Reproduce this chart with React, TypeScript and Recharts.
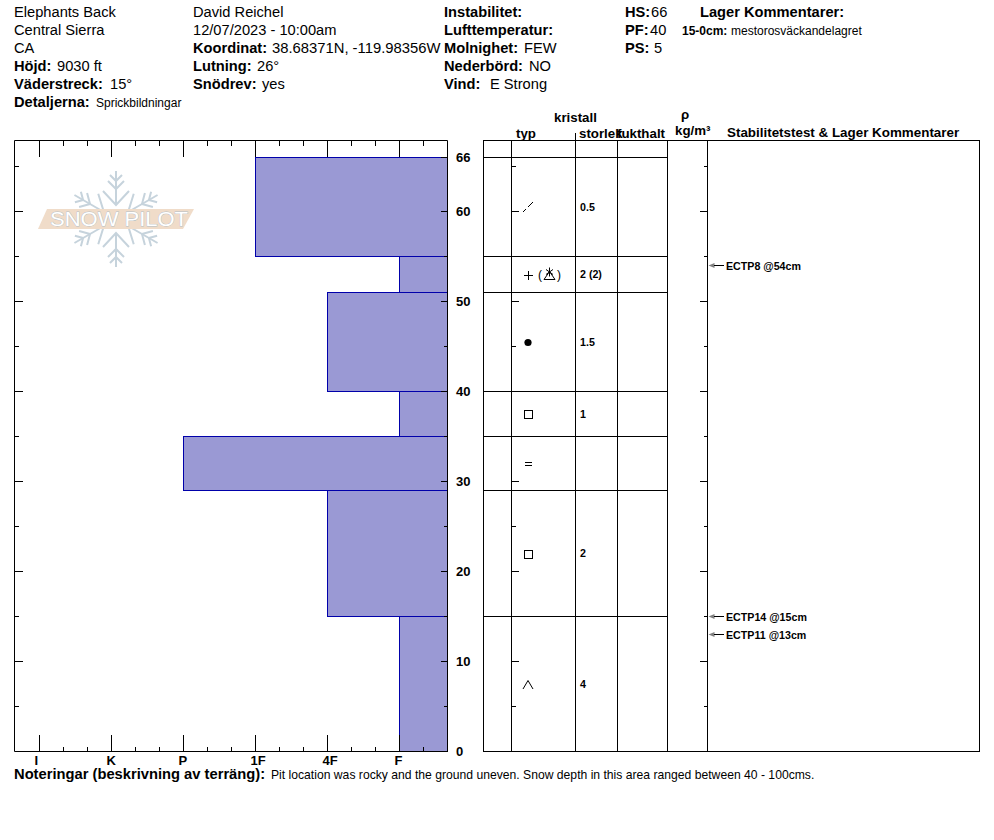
import React from 'react';
import { ComposedChart, XAxis, YAxis, Scatter, ReferenceArea, ReferenceLine } from 'recharts';

// ---- data ----
const hardnessLabels = ['I', 'K', 'P', '1F', '4F', 'F'];
const layerTops = [66, 55, 51, 40, 35, 29, 15];
const layerBottoms = [55, 51, 40, 35, 29, 15, 0];
const layerHardness = [4, 6, 5, 6, 3, 5, 6];
const grainTypes = ['decomposing', 'faceted-mixed', 'melt', 'facet', 'surface', 'facet', 'depth'];
const grainSizes = ['0.5', '2 (2)', '1.5', '1', '', '2', '4'];
const testDepths = [54, 15, 13];
const testLabels = ['ECTP8 @54cm', 'ECTP14 @15cm', 'ECTP11 @13cm'];
const rightDepthTicks = [0, 5, 10, 15, 20, 25, 30, 35, 40, 45, 50, 55, 60, 66];
const leftDepthTicks = [0, 5, 10, 15, 20, 25, 30, 35, 40, 45, 50, 55, 60, 65];
const hardnessTicks = [1, 4 / 3, 5 / 3, 2, 7 / 3, 8 / 3, 3, 10 / 3, 11 / 3, 4, 13 / 3, 14 / 3, 5, 16 / 3, 17 / 3, 6, 19 / 3];

type T = [string, number, number, boolean?, number?];
const headerTexts: T[] = [
  ['Elephants Back', 14, 17], ['Central Sierra', 14, 35], ['CA', 14, 53],
  ['Höjd:', 14, 71, true], ['9030 ft', 57, 71],
  ['Väderstreck:', 14, 89, true], ['15°', 110, 89],
  ['Detaljerna:', 14, 107, true], ['Sprickbildningar', 96, 107, false, 12],
  ['David Reichel', 193, 17], ['12/07/2023 - 10:00am', 193, 35],
  ['Koordinat:', 193, 53, true], ['38.68371N, -119.98356W', 272, 53, false, 14.8],
  ['Lutning:', 193, 71, true], ['26°', 257, 71],
  ['Snödrev:', 193, 89, true], ['yes', 262, 89],
  ['Instabilitet:', 444, 17, true], ['Lufttemperatur:', 444, 35, true],
  ['Molnighet:', 444, 53, true], ['FEW', 524, 53],
  ['Nederbörd:', 444, 71, true], ['NO', 529, 71],
  ['Vind:', 444, 89, true], ['E Strong', 490, 89],
  ['HS:', 625, 17, true], ['66', 651, 17],
  ['PF:', 625, 35, true], ['40', 650, 35],
  ['PS:', 625, 53, true], ['5', 654, 53],
  ['Lager Kommentarer:', 700, 17, true],
  ['15-0cm:', 682, 35, true, 12], ['mestorosväckandelagret', 731, 35, false, 12],
  ['kristall', 554, 122, true, 13.3], ['typ', 516, 138, true, 13.3], ['storlek', 579, 138, true, 13.3],
  ['fukthalt', 617, 138, true, 13.3], ['ρ', 681, 119, true, 13.3], ['kg/m³', 675, 135, true, 13.3],
  ['Stabilitetstest & Lager Kommentarer', 727, 137, true, 13.4],
  ['Noteringar (beskrivning av terräng):', 14, 779, true, 14.73],
  ['Pit location was rocky and the ground uneven. Snow depth in this area ranged between 40 - 100cms.', 271, 779, false, 12.16],
];

// ---- layout ----
const W = 994, H = 840;
const FONT = "'Liberation Sans', Arial, sans-serif";
const TOP = 140.5, BOTTOM = 751.5, LEFT = 14.5, RIGHT = 447.5;
const TABLE_LEFT = 483.5, TABLE_RIGHT = 979.5;
const DEPTH_MAX = (BOTTOM - TOP) / 9;
const HARD_MIN = 1 - 25 / 72, HARD_MAX = 6 + 48 / 72;
const yDomain: [number, number] = [0, DEPTH_MAX];
const colX = (px: number) => px - TABLE_LEFT;
const COLS = [511.5, 575.5, 617.5, 667.5, 707.5].map(colX);
const LAYER_END = colX(667.5);
const TYPE_X = colX(528), SIZE_X = colX(580), ARROW_X = colX(708.5);

const crisp = { shapeRendering: 'crispEdges' as const };
const isMajorH = (v: number) => Math.abs(v - Math.round(v)) < 1e-6;

const BottomTick = ({ x, payload }: any) => {
  const major = isMajorH(payload.value);
  return (
    <g>
      <line x1={x} x2={x} y1={BOTTOM} y2={BOTTOM - (major ? 17 : 5)} stroke="#000" {...crisp} />
      {major && hardnessLabels[Math.round(payload.value) - 1] && (
        <text x={x - 5} y={765} fontFamily={FONT} fontSize={13} fontWeight="bold" fill="#000">
          {hardnessLabels[Math.round(payload.value) - 1]}
        </text>
      )}
    </g>
  );
};
const TopTick = ({ x, payload }: any) => (
  <line x1={x} x2={x} y1={TOP} y2={TOP + (isMajorH(payload.value) ? 16 : 5)} stroke="#000" {...crisp} />
);
const LeftTick = ({ y, payload }: any) => (
  <line x1={LEFT} x2={LEFT + (payload.value % 10 === 0 ? 8 : 4)} y1={y} y2={y} stroke="#000" {...crisp} />
);
const RightTick = ({ y, payload }: any) => {
  const v = payload.value;
  const major = v % 10 === 0 || v === 66;
  return (
    <g>
      <line x1={RIGHT} x2={RIGHT - (major ? 7 : 3.5)} y1={y} y2={y} stroke="#000" {...crisp} />
      {major && (
        <text x={456} y={y + 4.5} fontFamily={FONT} fontSize={13} fontWeight="bold" fill="#000">{v}</text>
      )}
    </g>
  );
};

const GrainShape = ({ cx, cy, payload }: any) => {
  const s = { stroke: '#000', fill: 'none', strokeWidth: 1 };
  switch (payload.grain) {
    case 'decomposing':
      return (
        <g {...s}>
          <line x1={cx - 5} y1={cy + 5} x2={cx - 2} y2={cy + 2} />
          <line x1={cx} y1={cy} x2={cx + 5} y2={cy - 5} />
        </g>
      );
    case 'faceted-mixed':
      return (
        <g {...s}>
          <line x1={cx - 4.5} x2={cx + 4.5} y1={cy + 0.5} y2={cy + 0.5} {...crisp} />
          <line x1={cx + 0.5} x2={cx + 0.5} y1={cy - 4} y2={cy + 5} {...crisp} />
          <text x={cx + 10} y={cy + 4.5} fontFamily={FONT} fontSize={12} fill="#000" stroke="none">(</text>
          <path d={`M${cx + 16} ${cy + 5}L${cx + 21.5} ${cy - 3}L${cx + 27} ${cy + 5}Z`} />
          <path d={`M${cx + 21.5} ${cy - 7}V${cy + 2}M${cx + 18} ${cy - 5}L${cx + 25} ${cy}M${cx + 25} ${cy - 5}L${cx + 18} ${cy}`} />
          <text x={cx + 29} y={cy + 4.5} fontFamily={FONT} fontSize={12} fill="#000" stroke="none">)</text>
        </g>
      );
    case 'melt':
      return <circle cx={cx} cy={cy + 0.5} r={3.6} fill="#000" />;
    case 'facet':
      return <rect x={cx - 3.5} y={cy - 3.5} width={8} height={8} {...s} {...crisp} />;
    case 'surface':
      return (
        <g {...s} {...crisp}>
          <line x1={cx - 3.5} x2={cx + 3.5} y1={cy - 1.5} y2={cy - 1.5} />
          <line x1={cx - 3.5} x2={cx + 3.5} y1={cy + 2} y2={cy + 2} />
        </g>
      );
    case 'depth':
      return <path d={`M${cx - 5} ${cy + 5}L${cx} ${cy - 3.5}L${cx + 5} ${cy + 5}`} {...s} />;
    default:
      return <g />;
  }
};
const SizeShape = ({ cx, cy, payload }: any) => (
  <text x={cx} y={cy + 3.5} fontFamily={FONT} fontSize={10.67} fontWeight="bold" fill="#000">{payload.size}</text>
);
const TestShape = ({ cx, cy, payload }: any) => (
  <g>
    <path d={`M${cx} ${cy}L${cx + 6} ${cy - 2.5}V${cy + 2.5}Z`} fill="#808080" />
    <line x1={cx + 5} x2={cx + 15} y1={cy} y2={cy} stroke="#000" {...crisp} />
    <text x={cx + 17.5} y={cy + 4} fontFamily={FONT} fontSize={10.67} fontWeight="bold" fill="#000">{payload.label}</text>
  </g>
);

const midpoint = (i: number) => (layerTops[i] + layerBottoms[i]) / 2;
const layerRows = layerHardness.map((hardness, i) => ({ hardness, depth: midpoint(i) }));
const grainData = grainTypes.map((grain, i) => ({ x: TYPE_X, y: midpoint(i), grain }));
const sizeData = grainSizes.map((size, i) => ({ x: SIZE_X, y: midpoint(i), size }));
const testData = testDepths.map((y, i) => ({ x: ARROW_X, y, label: testLabels[i] }));

const Logo = () => {
  const cx = 116, cy = 219;
  const arm = (a: number) => (
    <g key={a} transform={`rotate(${a} ${cx} ${cy})`} stroke="#c6d3dc" strokeWidth={2} fill="none">
      <line x1={cx} x2={cx} y1={cy - 48} y2={cy - 14} />
      <path d={`M${cx - 6} ${cy - 44}L${cx} ${cy - 38}L${cx + 6} ${cy - 44}`} />
      <path d={`M${cx - 8} ${cy - 38}L${cx} ${cy - 30}L${cx + 8} ${cy - 38}`} />
      <path d={`M${cx - 13} ${cy - 28}L${cx} ${cy - 14}L${cx + 13} ${cy - 28}`} />
    </g>
  );
  return (
    <g>
      {[0, 60, 120, 180, 240, 300].map(arm)}
      <polygon points="47,209 194,209 183,229 38,229" fill="#f0dcc9" />
      <text x={50} y={226} textLength={138} lengthAdjust="spacingAndGlyphs" fontFamily={FONT} fontSize={20}
        fill="#ffffff" stroke="#b4bfc6" strokeWidth={0.8} paintOrder="stroke">SNOW PILOT</text>
    </g>
  );
};

const abs: React.CSSProperties = { position: 'absolute', left: 0, top: 0 };

export default function App() {
  return (
    <div style={{ ...abs, width: W, height: H, background: '#fff', overflow: 'hidden' }}>
      <svg width={W} height={H} style={abs}>
        <Logo />
        {headerTexts.map(([t, x, y, bold, size], i) => (
          <text key={i} x={x} y={y} fontFamily={FONT} fontSize={size ?? 14.67} fontWeight={bold ? 'bold' : 'normal'} fill="#000">{t}</text>
        ))}
        <line x1={575.5} x2={575.5} y1={133} y2={140} stroke="#000" {...crisp} />
      </svg>

      {/* hardness profile */}
      <div style={abs}>
        <ComposedChart width={W} height={H} data={layerRows} margin={{ top: TOP - 30, bottom: H - BOTTOM - 30, left: 0, right: W - RIGHT - 60 }}>
          <XAxis xAxisId="b" dataKey="hardness" orientation="bottom" type="number" height={30} domain={[HARD_MIN, HARD_MAX]} ticks={hardnessTicks}
            interval={0} allowDataOverflow axisLine={{ stroke: '#000' }} tickLine={false} tick={<BottomTick />} />
          <XAxis xAxisId="t" dataKey="hardness" orientation="top" type="number" height={30} domain={[HARD_MIN, HARD_MAX]} ticks={hardnessTicks}
            interval={0} allowDataOverflow axisLine={{ stroke: '#000' }} tickLine={false} tick={<TopTick />} />
          <YAxis yAxisId="r" orientation="right" type="number" width={60} domain={yDomain} ticks={rightDepthTicks}
            interval={0} allowDataOverflow axisLine={{ stroke: '#000' }} tickLine={false} tick={<RightTick />} />
          <YAxis yAxisId="l" orientation="left" type="number" width={LEFT} domain={yDomain} ticks={leftDepthTicks}
            interval={0} allowDataOverflow axisLine={{ stroke: '#000' }} tickLine={false} tick={<LeftTick />} />
          {layerTops.map((top, i) => (
            <ReferenceArea key={i} xAxisId="b" yAxisId="r" x1={layerHardness[i]} x2={HARD_MAX} y1={layerBottoms[i]} y2={top}
              fill="#9a99d4" fillOpacity={1} stroke="#0000aa" strokeOpacity={1} {...crisp} />
          ))}
        </ComposedChart>
      </div>

      {/* layer table */}
      <div style={abs}>
        <ComposedChart width={W} height={H} margin={{ top: TOP, bottom: H - BOTTOM, left: TABLE_LEFT, right: W - TABLE_RIGHT }}>
          <XAxis hide type="number" dataKey="x" domain={[0, TABLE_RIGHT - TABLE_LEFT]} allowDataOverflow />
          <YAxis hide type="number" dataKey="y" domain={yDomain} allowDataOverflow />
          <ReferenceArea x1={0} x2={TABLE_RIGHT - TABLE_LEFT} y1={0} y2={DEPTH_MAX} fill="none" stroke="#000" strokeOpacity={1} {...crisp} />
          {COLS.map((x) => (
            <ReferenceLine key={x} x={x} stroke="#000" strokeOpacity={1} {...crisp} />
          ))}
          {layerTops.map((d) => (
            <ReferenceLine key={d} segment={[{ x: 0, y: d }, { x: LAYER_END, y: d }]} stroke="#000" strokeOpacity={1} {...crisp} />
          ))}
          {leftDepthTicks.map((d) => (
            <ReferenceLine key={`a${d}`} segment={[{ x: COLS[0], y: d }, { x: COLS[0] + (d % 10 === 0 ? 7.5 : 4.5), y: d }]} stroke="#000" strokeOpacity={1} {...crisp} />
          ))}
          {leftDepthTicks.map((d) => (
            <ReferenceLine key={`b${d}`} segment={[{ x: COLS[4], y: d }, { x: COLS[4] - (d % 10 === 0 ? 7.5 : 3.5), y: d }]} stroke="#000" strokeOpacity={1} {...crisp} />
          ))}
          <Scatter name="grain type" data={grainData} dataKey="y" isAnimationActive={false} shape={<GrainShape />} />
          <Scatter name="grain size" data={sizeData} dataKey="y" isAnimationActive={false} shape={<SizeShape />} />
          <Scatter name="stability tests" data={testData} dataKey="y" isAnimationActive={false} shape={<TestShape />} />
        </ComposedChart>
      </div>
    </div>
  );
}
